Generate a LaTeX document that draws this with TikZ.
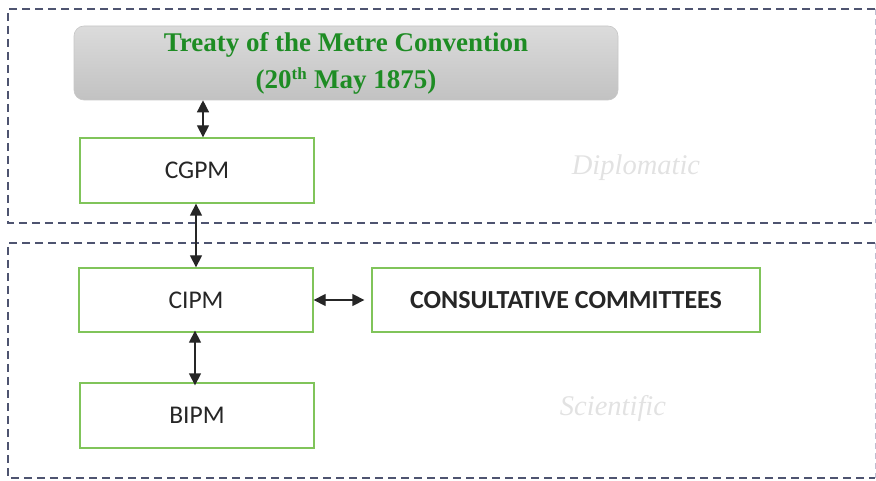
\documentclass[tikz,border=0pt]{standalone}
\usepackage{fontspec}
\setmainfont{Liberation Serif}
\newfontfamily\boxfont{Carlito}
\usetikzlibrary{arrows.meta,calc}
\definecolor{dashcol}{RGB}{78,84,112}
\definecolor{edgecol}{RGB}{190,190,210}
\definecolor{boxgreen}{RGB}{128,196,90}
\definecolor{titlegreen}{RGB}{30,140,36}
\definecolor{faint}{RGB}{226,226,226}
\begin{document}
\begin{tikzpicture}[x=1pt,y=-1pt,
  zone/.style={draw=dashcol,line width=1.8pt,dash pattern=on 8pt off 5pt},
  zoneedge/.style={draw=edgecol,line width=1pt,dash pattern=on 6pt off 4pt},
  orgbox/.style={draw=boxgreen,line width=1.3pt,fill=white,minimum width=234pt,minimum height=65pt,inner sep=0pt,font=\boxfont\fontsize{25.5}{30}\selectfont,text=black!85},
  treatybox/.style={rounded corners=10pt,top color=black!14,bottom color=black!24,draw=black!22,line width=0.6pt,minimum width=544pt,minimum height=74pt,inner sep=0pt,text=titlegreen,font=\bfseries\fontsize{27}{37}\selectfont},
  zonelabel/.style={text=faint,font=\itshape\fontsize{28.5}{32}\selectfont},
  arr/.style={{Triangle[length=12pt,width=12pt]}-{Triangle[length=12pt,width=12pt]},line width=1.3pt,black!85}
]
\useasboundingbox (0,0) rectangle (876,481);
% zones
\draw[zone] (875,9) -- (8,9) -- (8,223) -- (875,223);
\draw[zoneedge] (875,9) -- (875,223);
\draw[zone] (875,243) -- (8,243) -- (8,478) -- (875,478);
\draw[zoneedge] (875,243) -- (875,478);
\node[zonelabel] (dip) at (636,168) {Diplomatic};
\node[zonelabel] (sci) at (613,408) {Scientific};
% boxes
\node[treatybox] (treaty) at (346,63) {\raisebox{-3pt}{\begin{tabular}{@{}c@{}}Treaty of the Metre Convention\\(20\textsuperscript{\fontsize{17}{17}\selectfont th} May 1875)\end{tabular}}};
\node[orgbox] (cgpm) at (197,170.5) {CGPM};
\node[orgbox,minimum height=64pt] (cipm) at (196,300) {CIPM};
\node[orgbox] (bipm) at (197,415.5) {BIPM};
\node[orgbox,minimum width=388pt,minimum height=64pt,font=\boxfont\bfseries\fontsize{26}{30}\selectfont] (cc) at (566,300) {CONSULTATIVE COMMITTEES};
% arrows
\draw[arr] ([xshift=6pt]cgpm.north |- treaty.south) -- ([xshift=6pt]cgpm.north);
\draw[arr] (cgpm.south -| cipm.north) -- (cipm.north);
\draw[arr] ([xshift=-1pt,yshift=2pt]cipm.south) -- ([xshift=-2pt,yshift=-3pt]bipm.north);
\draw[arr] (cipm.east) -- ([xshift=-7pt]cc.west);
\end{tikzpicture}
\end{document}
